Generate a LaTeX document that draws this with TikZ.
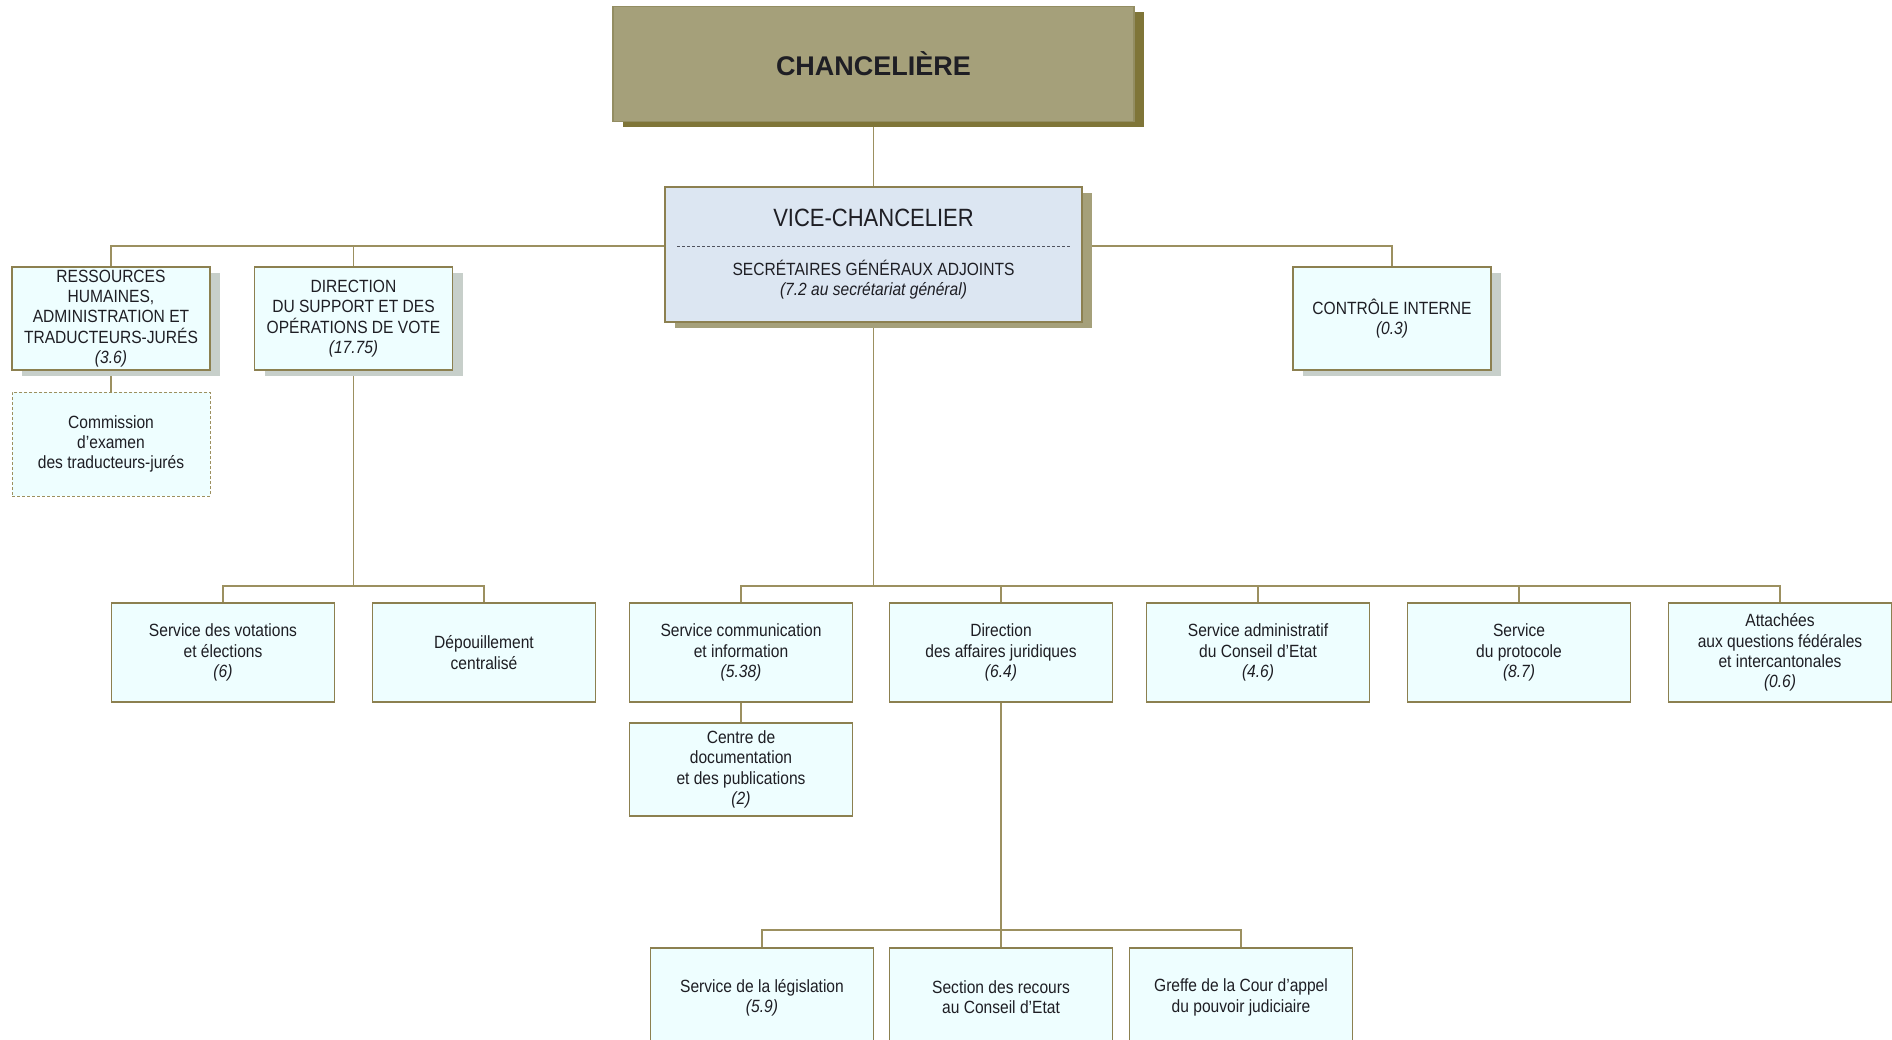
\documentclass[tikz,border=0pt]{standalone}
\usepackage{fontspec}
\setmainfont{Liberation Sans}[FakeStretch=0.88]
\newfontfamily\chanfont{Liberation Sans}[FakeStretch=1.0]
\usetikzlibrary{shadows,backgrounds}
\definecolor{chanfill}{HTML}{A5A07A}
\definecolor{chanborder}{HTML}{938D62}
\definecolor{chanshadow}{HTML}{7F7538}
\definecolor{vicefill}{HTML}{DCE6F2}
\definecolor{viceshadow}{HTML}{A5A07A}
\definecolor{boxfill}{HTML}{EEFEFF}
\definecolor{boxborder}{HTML}{8C8050}
\definecolor{greyshadow}{HTML}{C7CFCA}
\definecolor{linecol}{HTML}{9C9060}
\definecolor{dashgrey}{HTML}{50535E}
\definecolor{txt}{HTML}{1E1E24}
\newcommand\orgbody{\fontsize{17.7pt}{20.3pt}\selectfont}
\begin{document}
\begin{tikzpicture}[x=1pt,y=-1pt,
  conn/.style={draw=linecol, line width=1.3pt},
  ubox/.style={draw=boxborder, fill=boxfill, line width=1.1pt, minimum width=223pt,
    minimum height=99pt, inner sep=0pt, align=center, font=\orgbody, text=txt},
  sbox/.style={ubox, minimum width=198pt, minimum height=103pt,
    drop shadow={shadow xshift=10pt, shadow yshift=-6pt, fill=greyshadow, opacity=1}},
  dbox/.style={ubox, minimum width=198pt, minimum height=104pt, draw=linecol,
    line width=1pt, dash pattern=on 3pt off 2pt},
  chanbox/.style={draw=chanborder, fill=chanfill, line width=1.2pt, minimum width=521pt,
    minimum height=115pt, inner sep=0pt, text=txt,
    font={\chanfont\fontsize{27pt}{30pt}\selectfont\bfseries},
    drop shadow={shadow xshift=10pt, shadow yshift=-5pt, fill=chanshadow, opacity=1}},
  vicebox/.style={draw=boxborder, fill=vicefill, line width=1.1pt, minimum width=417pt,
    minimum height=135pt, inner sep=0pt,
    drop shadow={shadow xshift=10pt, shadow yshift=-6pt, fill=viceshadow, opacity=1}},
  plain/.style={inner sep=0pt, align=center, text=txt, font=\orgbody}
]
\useasboundingbox (0,0) rectangle (1892,1039);
\clip (0,0) rectangle (1892,1039);

% top
\node[chanbox] (chan) at (873.5,64) {CHANCELIÈRE};
\node[vicebox] (vice) at (873.5,254.5) {};
\node[plain, font={\fontsize{25pt}{28pt}\selectfont}] (vct) at (873.5,218) {VICE-CHANCELIER};
\node[plain] (sga) at (873.5,280) {SECRÉTAIRES GÉNÉRAUX ADJOINTS\\\textit{(7.2 au secrétariat général)}};
\draw[dashgrey, line width=0.9pt, dash pattern=on 3pt off 2pt] (677,246) -- (1070,246);

% second level
\node[sbox] (rh) at (111,318.5) {RESSOURCES\\HUMAINES,\\ADMINISTRATION ET\\TRADUCTEURS-JURÉS\\\textit{(3.6)}};
\node[dbox] (com) at (111,444) {Commission\\d’examen\\des traducteurs-jurés};
\node[sbox] (dsup) at (353.5,318.5) {DIRECTION\\DU SUPPORT ET DES\\OPÉRATIONS DE VOTE\\\textit{(17.75)}};
\node[sbox] (ctrl) at (1392,318.5) {CONTRÔLE INTERNE\\\textit{(0.3)}};

% third level
\node[ubox] (vot) at (223,652.5) {Service des votations\\et élections\\\textit{(6)}};
\node[ubox] (dep) at (484,652.5) {Dépouillement\\centralisé};
\node[ubox] (sci) at (741,652.5) {Service communication\\et information\\\textit{(5.38)}};
\node[ubox] (daj) at (1001,652.5) {Direction\\des affaires juridiques\\\textit{(6.4)}};
\node[ubox] (sad) at (1258,652.5) {Service administratif\\du Conseil d’Etat\\\textit{(4.6)}};
\node[ubox] (pro) at (1519,652.5) {Service\\du protocole\\\textit{(8.7)}};
\node[ubox] (att) at (1780,652.5) {Attachées\\aux questions fédérales\\et intercantonales\\\textit{(0.6)}};
\node[ubox, minimum height=93pt] (cdoc) at (741,769.5) {Centre de\\documentation\\et des publications\\\textit{(2)}};

% fourth level
\node[ubox] (leg) at (762,997.5) {Service de la législation\\\textit{(5.9)}};
\node[ubox] (rec) at (1001,997.5) {Section des recours\\au Conseil d’Etat};
\node[ubox] (gre) at (1241,997.5) {Greffe de la Cour d’appel\\du pouvoir judiciaire};

% bus points
\coordinate (bt) at (873.5,246);
\coordinate (bm) at (873.5,586);
\coordinate (bl) at (353.5,586);
\coordinate (bb) at (1001,930);

\begin{scope}[on background layer]
\draw[conn] (chan) -- (vice);
\draw[conn] (rh.north) |- (bt);
\draw[conn] (dsup.north) |- (bt);
\draw[conn] (ctrl.north) |- (bt);
\draw[conn] (rh) -- (com);
\draw[conn] (dsup.south) -- (bl);
\draw[conn] (vot.north) |- (bl);
\draw[conn] (dep.north) |- (bl);
\draw[conn] (vice.south) -- (bm);
\draw[conn] (sci.north) |- (bm);
\draw[conn] (daj.north) |- (bm);
\draw[conn] (sad.north) |- (bm);
\draw[conn] (pro.north) |- (bm);
\draw[conn] (att.north) |- (bm);
\draw[conn] (sci) -- (cdoc);
\draw[conn] (daj.south) -- (bb);
\draw[conn] (leg.north) |- (bb);
\draw[conn] (rec.north) -- (bb);
\draw[conn] (gre.north) |- (bb);
\end{scope}
\end{tikzpicture}
\end{document}
